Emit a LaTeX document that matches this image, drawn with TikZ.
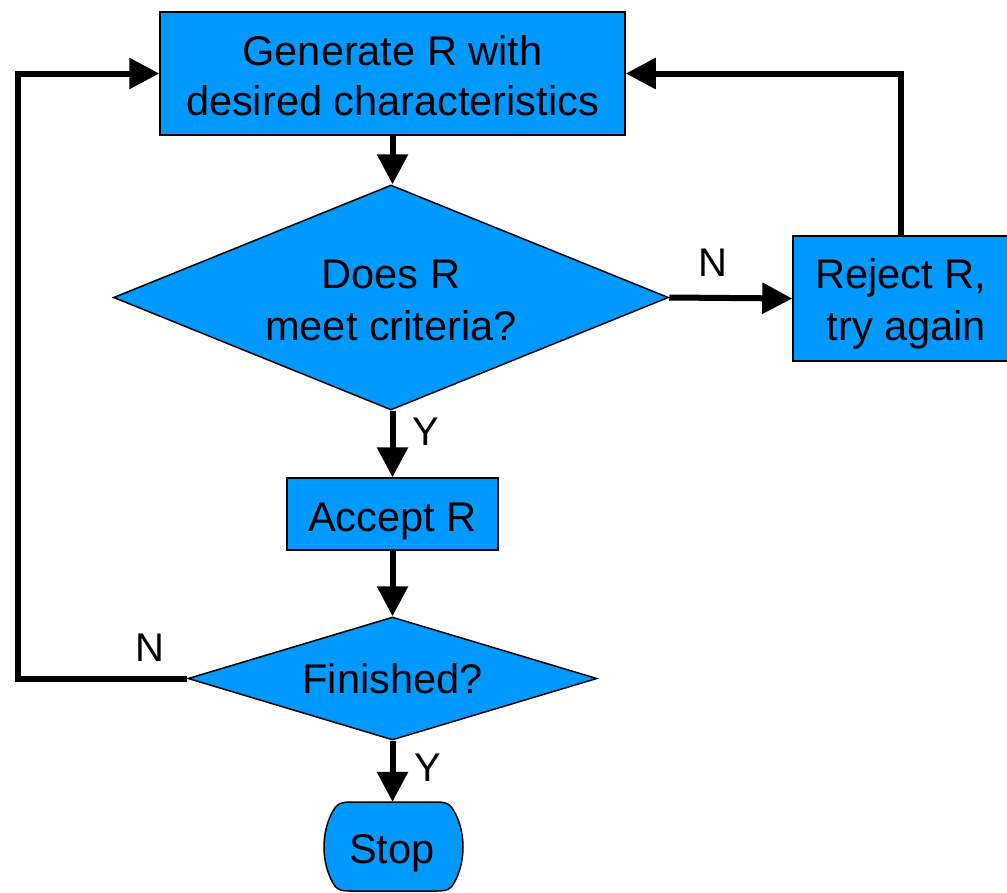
\documentclass[tikz,border=0pt]{standalone}
\usepackage{fontspec}
\setmainfont{Liberation Sans}
\usetikzlibrary{shapes.geometric,arrows.meta}
\definecolor{boxblue}{RGB}{0,153,255}
\tikzset{
  txt/.style={font=\fontsize{41.5}{52}\selectfont},
  box/.style={draw=black,line width=1.5pt,fill=boxblue,inner sep=0pt,align=center,txt},
  decision/.style={diamond,draw=black,line width=1.5pt,fill=boxblue,inner sep=0pt,align=center,txt},
  flow/.style={line width=6pt,-{Triangle[length=30pt,width=30pt]}},
  lbl/.style={font=\fontsize{40}{48}\selectfont,inner sep=0pt}
}
\begin{document}
\begin{tikzpicture}[x=1pt,y=1pt]
\useasboundingbox (0,0) rectangle (1007,-892);
\node[box,minimum width=465pt,minimum height=123pt,font=\fontsize{41.5}{50}\selectfont,text height=83pt,text depth=0pt] (gen) at (392.5,-73.5) {Generate R with\\desired characteristics};
\node[decision,aspect=2.4667,minimum width=555pt,minimum height=225pt,text height=85pt,text depth=0pt] (dec) at (391,-297.5) {Does R\\meet criteria?};
\node[box,minimum width=215pt,minimum height=125pt,text height=83pt,text depth=0pt] (rej) at (900.5,-298.5) {Reject R,\\\ try again};
\node[box,minimum width=211pt,minimum height=72pt,text height=35.4pt,text depth=0pt] (acc) at (392.5,-514) {Accept R};
\node[decision,aspect=3.325,minimum width=409pt,minimum height=123pt,text height=29.6pt,text depth=0pt] (fin) at (392.5,-678.5) {Finished?};
\node[inner sep=0pt,minimum width=140pt,minimum height=89pt] (stop) at (393,-846.5) {};
\draw[line width=1.5pt,fill=boxblue]
  (350,-802) -- (437,-802) .. controls (447,-802) and (451,-805) .. (454,-811)
  .. controls (466,-832) and (466,-862) .. (454,-883)
  .. controls (451,-889) and (447,-891) .. (437,-891) -- (350,-891)
  .. controls (340,-891) and (336,-889) .. (333,-883)
  .. controls (321,-862) and (321,-832) .. (333,-811)
  .. controls (336,-805) and (340,-802) .. (350,-802) -- cycle;
\node[inner sep=0pt,txt,anchor=base] (stoptext) at (392,-863.3) {Stop};
\coordinate (lc) at (18,-678.5);
\draw[flow] (gen.south -| acc.south) -- (acc.south |- dec.north);
\draw[flow] (dec.east) -- (rej.west);
\draw[flow] (acc.north |- dec.south) -- (acc.north);
\draw[flow] (acc.south) -- (fin.north);
\draw[flow] (fin.south) -- (fin.south |- stop.north);
\draw[flow] (rej.north) |- (gen.east);
\draw[flow] (fin.west) -- (lc) |- (gen.west);
\node[lbl] (n1) at (713,-263) {N};
\node[lbl] (y1) at (426,-432) {Y};
\node[lbl] (n2) at (150,-648) {N};
\node[lbl] (y2) at (428,-768) {Y};
\end{tikzpicture}
\end{document}
